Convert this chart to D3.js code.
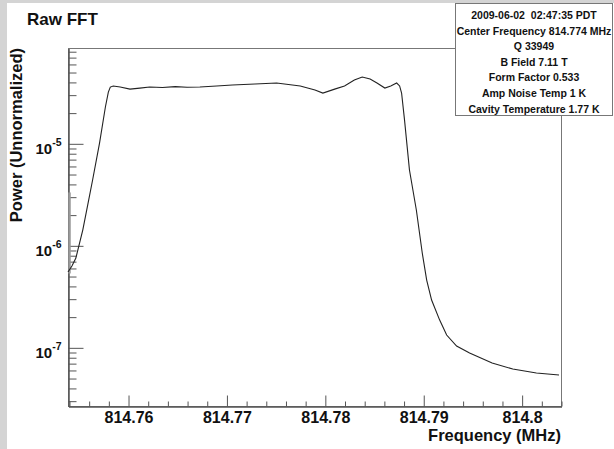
<!DOCTYPE html>
<html>
<head>
<meta charset="utf-8">
<script src="https://cdn.jsdelivr.net/npm/d3@7"></script>
<style>
  body { margin: 0; background: #d4d4d4; }
  svg { display: block; font-family: "Liberation Sans", Arial, sans-serif; font-weight: bold; }
</style>
</head>
<body>
<div class="canvas"></div>
<script>
// data
const freqMHz = [814.7539, 814.7543, 814.7547, 814.7554, 814.7559, 814.7564, 814.7571, 814.7577,
  814.7580, 814.7582, 814.7585, 814.7592, 814.7602, 814.7612, 814.7622, 814.7635, 814.7648,
  814.7660, 814.7673, 814.7690, 814.7706, 814.7729, 814.7751, 814.7775, 814.7790, 814.7798,
  814.7810, 814.7820, 814.7830, 814.7838, 814.7846, 814.7853, 814.7861, 814.7867, 814.7873,
  814.7876, 814.7878, 814.7881, 814.7886, 814.7893, 814.7899, 814.79035, 814.79085, 814.79167,
  814.79238, 814.79339, 814.79471, 814.7970, 814.7991, 814.8015, 814.8038];
const power = [5.47e-7, 6.27e-7, 7.5e-7, 1.41e-6, 2.48e-6, 4.37e-6, 1.0e-5, 2.27e-5,
  3.18e-5, 3.56e-5, 3.65e-5, 3.57e-5, 3.40e-5, 3.48e-5, 3.57e-5, 3.53e-5, 3.60e-5,
  3.55e-5, 3.57e-5, 3.65e-5, 3.73e-5, 3.81e-5, 3.90e-5, 3.65e-5, 3.33e-5, 3.11e-5,
  3.40e-5, 3.65e-5, 4.17e-5, 4.47e-5, 4.27e-5, 3.90e-5, 3.48e-5, 3.65e-5, 3.90e-5,
  3.65e-5, 3.11e-5, 1.69e-5, 5.47e-6, 2.22e-6, 8.41e-7, 4.57e-7, 2.91e-7, 1.85e-7,
  1.32e-7, 1.03e-7, 8.79e-8, 7.02e-8, 6.13e-8, 5.60e-8, 5.35e-8];
// first-bin edge drawn grey at the left axis
const firstEdge = [5.3e-7, 3.3e-6];

const xTicks = [814.76, 814.77, 814.78, 814.79, 814.80];
const xTickLabels = ['814.76', '814.77', '814.78', '814.79', '814.8'];
const yTicks = [1e-5, 1e-6, 1e-7];
const yTickExp = ['-5', '-6', '-7'];
const xDomain = [814.7539, 814.8040];
const yDomain = [2.66e-8, 8.6e-5];

const statLines = ['2009-06-02  02:47:35 PDT', 'Center Frequency 814.774 MHz', 'Q 33949',
  'B Field 7.11 T', 'Form Factor 0.533', 'Amp Noise Temp 1 K', 'Cavity Temperature 1.77 K'];

const W = 614, H = 449;
const margin = { top: 48, right: 53, bottom: 43, left: 68 };
const graphWidth = W - margin.left - margin.right;
const graphHeight = H - margin.top - margin.bottom;

const svg = d3.select('.canvas').append('svg')
    .attr('width', W)
    .attr('height', H);

// white pad with grey canvas strip on left/top
svg.append('rect')
    .attr('x', 7).attr('y', 3)
    .attr('width', W - 7).attr('height', H - 3)
    .attr('fill', '#fff');

const graph = svg.append('g')
    .attr('transform', `translate(${margin.left}, ${margin.top})`);

// scales
const x = d3.scaleLinear().domain(xDomain).range([0, graphWidth]);
const y = d3.scaleLog().domain(yDomain).range([graphHeight, 0]);

// frame
graph.append('rect')
    .attr('x', 0.5).attr('y', 0.5)
    .attr('width', graphWidth).attr('height', graphHeight)
    .attr('fill', 'none')
    .attr('stroke', '#777');

// minor x ticks
const xMinor = d3.range(814.754, 814.8041, 0.002).filter(v => !xTicks.some(t => Math.abs(t - v) < 1e-6));
const xMinorGroup = graph.append('g')
    .attr('transform', `translate(0.5, ${graphHeight + 0.5})`)
    .call(d3.axisBottom(x).tickValues(xMinor).tickSize(-5).tickSizeOuter(0).tickFormat(''));

// major x ticks with labels
const xAxisGroup = graph.append('g')
    .attr('transform', `translate(0.5, ${graphHeight + 0.5})`)
    .call(d3.axisBottom(x).tickValues(xTicks).tickSize(-11).tickSizeOuter(0).tickPadding(5)
        .tickFormat((d, i) => xTickLabels[i]));

// y minor ticks 2..9 per decade
const yMinor = [];
for (let e = -8; e <= -5; e++) {
  for (let m = 2; m <= 9; m++) {
    const v = m * Math.pow(10, e);
    if (v >= yDomain[0] && v <= yDomain[1]) yMinor.push(v);
  }
}
const yMinorGroup = graph.append('g')
    .attr('transform', 'translate(0.5, 0.5)')
    .call(d3.axisLeft(y).tickValues(yMinor).tickSize(-8).tickSizeOuter(0).tickFormat(''));

const yAxisGroup = graph.append('g')
    .attr('transform', 'translate(0.5, 0.5)')
    .call(d3.axisLeft(y).tickValues(yTicks).tickSize(-15).tickSizeOuter(0).tickPadding(7).tickFormat(''));

[xMinorGroup, xAxisGroup, yMinorGroup, yAxisGroup].forEach(g => {
  g.select('.domain').attr('stroke', '#555');
  g.selectAll('line').attr('stroke', '#555');
});

xAxisGroup.selectAll('text')
    .attr('font-size', 16)
    .attr('font-family', '"Liberation Sans", Arial, sans-serif')
    .attr('font-weight', 'bold')
    .attr('fill', '#111');

// 10^n labels
yAxisGroup.selectAll('text')
    .attr('font-size', 15)
    .attr('font-family', '"Liberation Sans", Arial, sans-serif')
    .attr('font-weight', 'bold')
    .attr('fill', '#111')
    .attr('dy', 10)
    .each(function (d, i) {
      const t = d3.select(this);
      t.append('tspan').text('10');
      t.append('tspan').attr('dy', -8.5).attr('font-size', 10.5).text(yTickExp[i]);
    });

// first bin edge
graph.append('line')
    .attr('x1', x(xDomain[0]) + 1.5).attr('x2', x(xDomain[0]) + 1.5)
    .attr('y1', y(firstEdge[0])).attr('y2', y(firstEdge[1]))
    .attr('stroke', '#999')
    .attr('stroke-width', 2.5);

// spectrum
const line = d3.line()
    .x((d, i) => x(freqMHz[i]))
    .y(d => y(d));

graph.append('path')
    .datum(power)
    .attr('d', line)
    .attr('fill', 'none')
    .attr('stroke', '#222')
    .attr('stroke-width', 1.1);

// title and axis titles
svg.append('text')
    .attr('x', 27).attr('y', 25)
    .attr('font-size', 17)
    .attr('fill', '#111')
    .text('Raw FFT');

svg.append('text')
    .attr('x', margin.left + graphWidth).attr('y', 441)
    .attr('text-anchor', 'end')
    .attr('font-size', 16.5)
    .attr('fill', '#111')
    .text('Frequency (MHz)');

svg.append('text')
    .attr('transform', `translate(22, ${margin.top}) rotate(-90)`)
    .attr('text-anchor', 'end')
    .attr('font-size', 16.5)
    .attr('fill', '#111')
    .text('Power (Unnormalized)');

// stats box
const box = svg.append('g').attr('transform', 'translate(455.5, 3.5)');
box.append('rect')
    .attr('width', 157).attr('height', 112)
    .attr('fill', '#fff')
    .attr('stroke', '#777');
box.selectAll('text.stat')
    .data(statLines)
    .enter()
    .append('text')
    .attr('class', 'stat')
    .attr('x', 78.5)
    .attr('y', (d, i) => 15.5 + i * 15.6)
    .attr('text-anchor', 'middle')
    .attr('font-size', 10.5)
    .attr('fill', '#111')
    .style('white-space', 'pre')
    .text(d => d);
</script>
</body>
</html>
